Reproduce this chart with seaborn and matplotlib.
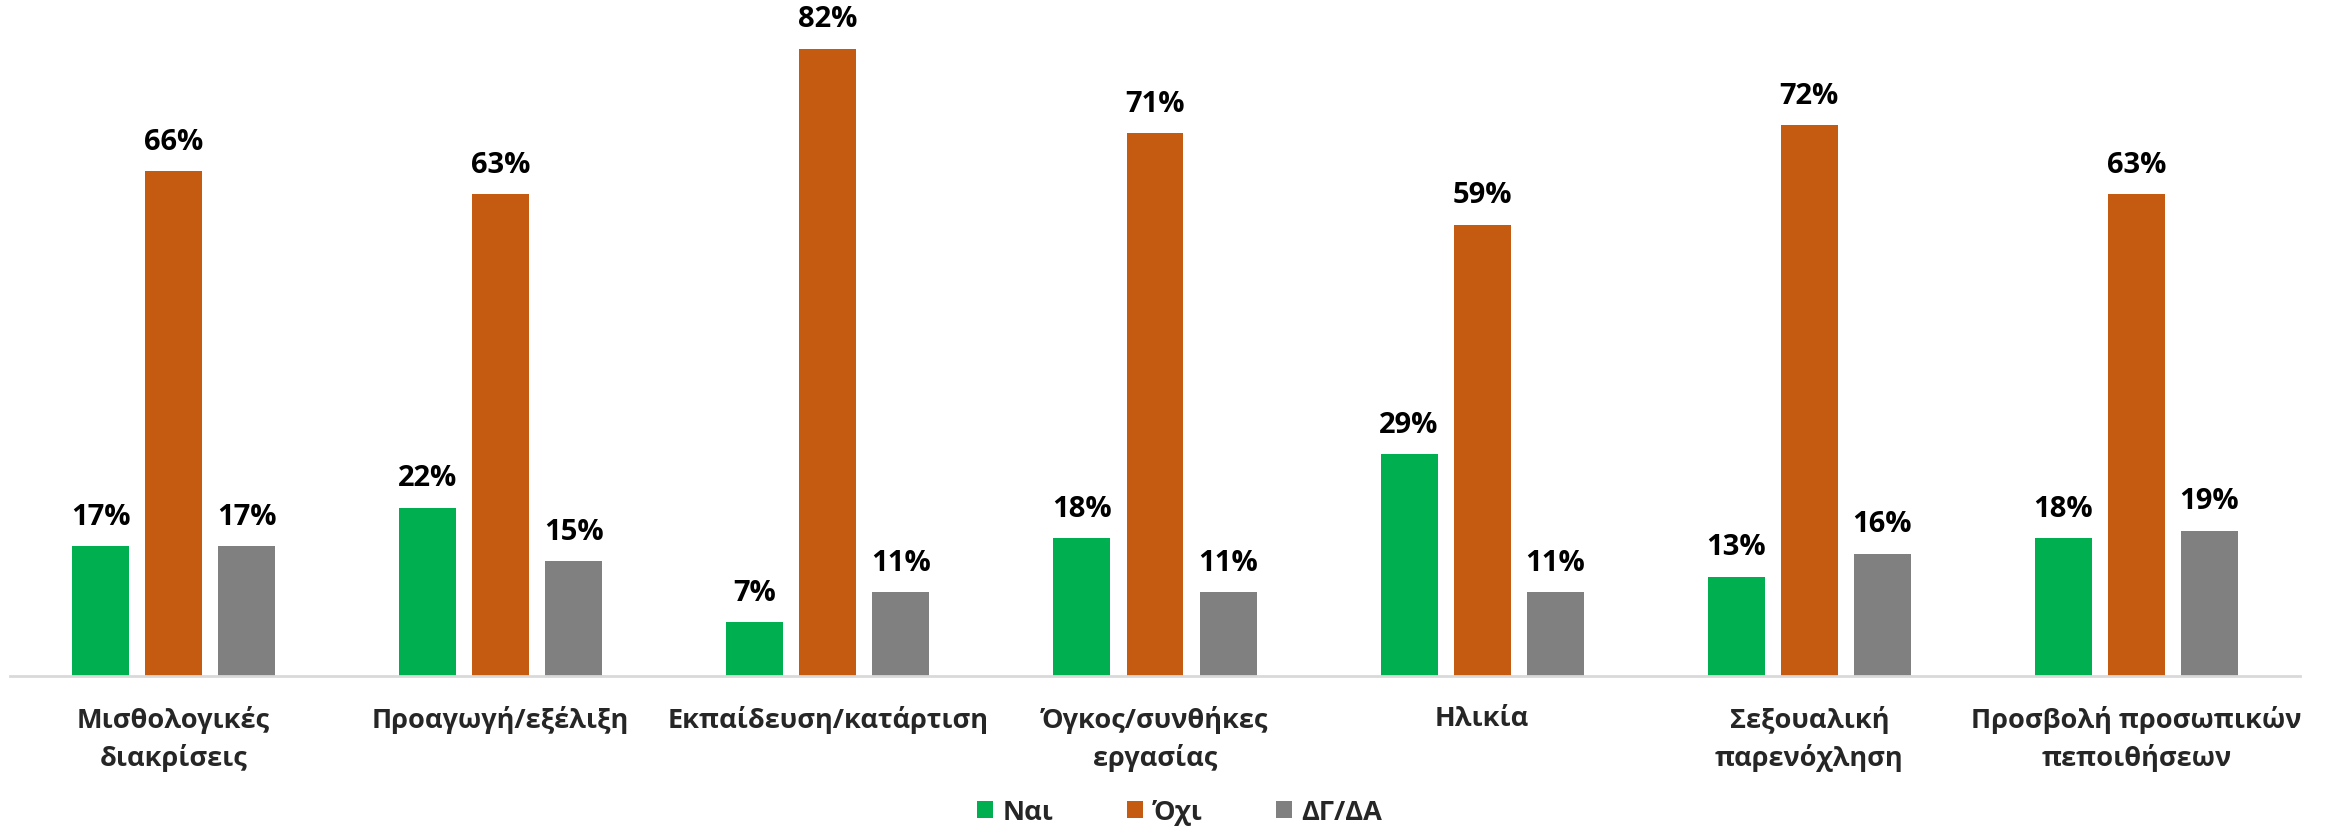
import matplotlib
matplotlib.use("Agg")
import matplotlib.pyplot as plt
import seaborn as sns
import pandas as pd

# Survey answers per discrimination area (percent)
categories = [
    "Μισθολογικές\nδιακρίσεις",
    "Προαγωγή/εξέλιξη",
    "Εκπαίδευση/κατάρτιση",
    "Όγκος/συνθήκες\nεργασίας",
    "Ηλικία",
    "Σεξουαλική\nπαρενόχληση",
    "Προσβολή προσωπικών\nπεποιθήσεων",
]
answers = ["Ναι", "Όχι", "ΔΓ/ΔΑ"]
yes_values = [17, 22, 7, 18, 29, 13, 18]
no_values = [66, 63, 82, 71, 59, 72, 63]
dk_values = [17, 15, 11, 11, 11, 16, 19]
colors = ["#00B050", "#C55A11", "#808080"]

rows = []
for ans, vals in zip(answers, [yes_values, no_values, dk_values]):
    for cat, v in zip(categories, vals):
        rows.append({"category": cat, "answer": ans, "value": v})
df = pd.DataFrame(rows)

sns.set_theme(style="white")
plt.rcParams["font.family"] = ["Open Sans", "DejaVu Sans"]
plt.rcParams["font.weight"] = "bold"

W, H, DPI = 2336, 828, 100
fig = plt.figure(figsize=(W / DPI, H / DPI), dpi=DPI)
ax = fig.add_axes([10 / W, (H - 677) / H, (2300 - 10) / W, 677 / H])

sns.barplot(
    data=df, x="category", y="value", hue="answer",
    order=categories, hue_order=answers, palette=colors,
    width=0.67, gap=0.22, linewidth=0, saturation=1, ax=ax,
)

for cont, vals in zip(ax.containers, [yes_values, no_values, dk_values]):
    ax.bar_label(cont, labels=[f"{v}%" for v in vals], padding=11,
                 fontsize=21, fontweight="bold", color="black")

ax.set_ylim(0, 88.5)
ax.set_xlim(-0.5, len(categories) - 0.5)
ax.set_xlabel("")
ax.set_ylabel("")
ax.set_yticks([])
for side in ["top", "right", "left"]:
    ax.spines[side].set_visible(False)
ax.spines["bottom"].set_color("#D9D9D9")
ax.spines["bottom"].set_linewidth(2)
ax.tick_params(axis="x", length=0, pad=21, labelsize=19.5)
for lbl in ax.get_xticklabels():
    lbl.set_fontweight("bold")
    lbl.set_linespacing(1.45)

handles, labels = ax.get_legend_handles_labels()
ax.get_legend().remove()
fig.legend(handles, labels, loc="center", bbox_to_anchor=(0.505, 15 / H),
           ncol=3, frameon=False, handlelength=0.6,
           handleheight=0.6, handletextpad=0.35, columnspacing=2.7,
           prop={"weight": "bold", "size": 19.5})

fig.savefig("out.png", dpi=DPI)
